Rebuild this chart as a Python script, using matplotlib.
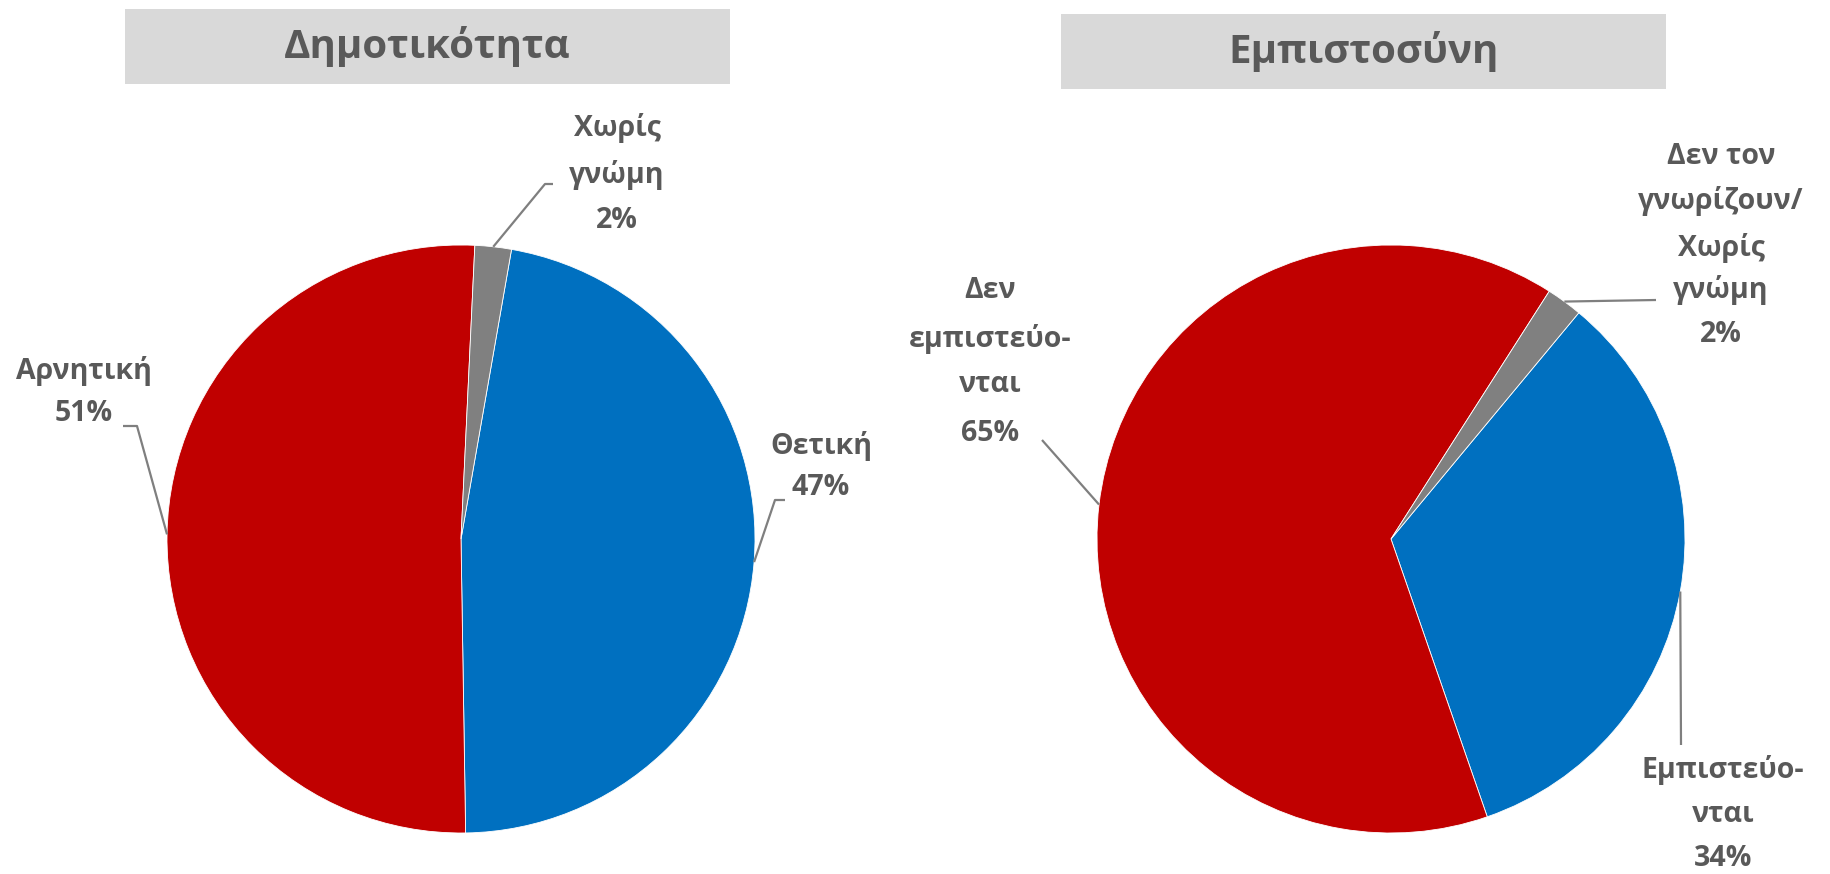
import numpy as np
import matplotlib.pyplot as plt
from matplotlib.patches import Rectangle

plt.rcParams['font.family'] = ['Open Sans', 'DejaVu Sans']

# data
pop_title = 'Δημοτικότητα'
pop_names = ['Θετική', 'Αρνητική', 'Χωρίς γνώμη']
pop_values = [47, 51, 2]
pop_lines = [['Θετική'], ['Αρνητική'], ['Χωρίς', 'γνώμη']]

trust_title = 'Εμπιστοσύνη'
trust_names = ['Εμπιστεύονται', 'Δεν εμπιστεύονται', 'Δεν τον γνωρίζουν/Χωρίς γνώμη']
trust_values = [34, 65, 2]
trust_lines = [['Εμπιστεύο-', 'νται'], ['Δεν', 'εμπιστεύο-', 'νται'],
               ['Δεν τον', 'γνωρίζουν/', 'Χωρίς', 'γνώμη']]

colors = ['#0070C0', '#C00000', '#808080']
txt_color = '#595959'
line_color = '#7F7F7F'

W, H = 1831, 874
fig = plt.figure(figsize=(W / 100, H / 100), dpi=100)
ax = fig.add_axes([0, 0, 1, 1])


def Y(y):
    # picture rows counted from the top
    return H - y


R = 294
charts = [
    dict(title=pop_title, values=pop_values, lines=pop_lines, center=(461, 539),
         start=80.1, box=(125, 9, 730, 84),
         # leader elbows and label line positions per slice
         leaders=[[(775, 500), (785, 500)], [(137, 426), (123, 426)], [(545, 184), (553, 184)]],
         label_x=[821, 84, 617],
         label_y=[[446, 488], [371, 414], [128, 175, 220]]),
    dict(title=trust_title, values=trust_values, lines=trust_lines, center=(1391, 539),
         start=50.3, box=(1061, 14, 1666, 89),
         leaders=[[(1681, 745)], [(1042, 440)], [(1656, 300)]],
         label_x=[1723, 990, 1721],
         label_y=[[770, 815, 858], [290, 339, 385, 434], [156, 201, 248, 290, 334]]),
]

for c in charts:
    cx, cy = c['center']
    wedges, _ = ax.pie(c['values'], colors=colors, startangle=c['start'], counterclock=False,
                       center=(cx, Y(cy)), radius=R,
                       wedgeprops=dict(linewidth=0.6, edgecolor='white'))
    total = sum(c['values'])
    for i, w in enumerate(wedges):
        mid = np.deg2rad((w.theta1 + w.theta2) / 2)
        px = [cx + R * np.cos(mid)] + [p[0] for p in c['leaders'][i]]
        py = [Y(cy) + R * np.sin(mid)] + [Y(p[1]) for p in c['leaders'][i]]
        ax.plot(px, py, color=line_color, lw=1.6, solid_capstyle='butt')
        pct = round(c['values'][i] / total * 100) if total == 100 else c['values'][i]
        rows = c['lines'][i] + ['%d%%' % pct]
        for txt, ly in zip(rows, c['label_y'][i]):
            ax.text(c['label_x'][i], Y(ly), txt, ha='center', va='center',
                    fontsize=20.5, fontweight='bold', color=txt_color)

    x0, y0, x1, y1 = c['box']
    ax.add_patch(Rectangle((x0, Y(y1)), x1 - x0, y1 - y0, facecolor='#D9D9D9',
                           edgecolor='none', zorder=0))
    ax.text((x0 + x1) / 2, Y((y0 + y1) / 2), c['title'], ha='center', va='center',
            fontsize=29, fontweight='bold', color=txt_color)

ax.set_xlim(0, W)
ax.set_ylim(0, H)
ax.set_aspect('equal')
ax.axis('off')

fig.savefig('out.png', dpi=100, facecolor='white')
